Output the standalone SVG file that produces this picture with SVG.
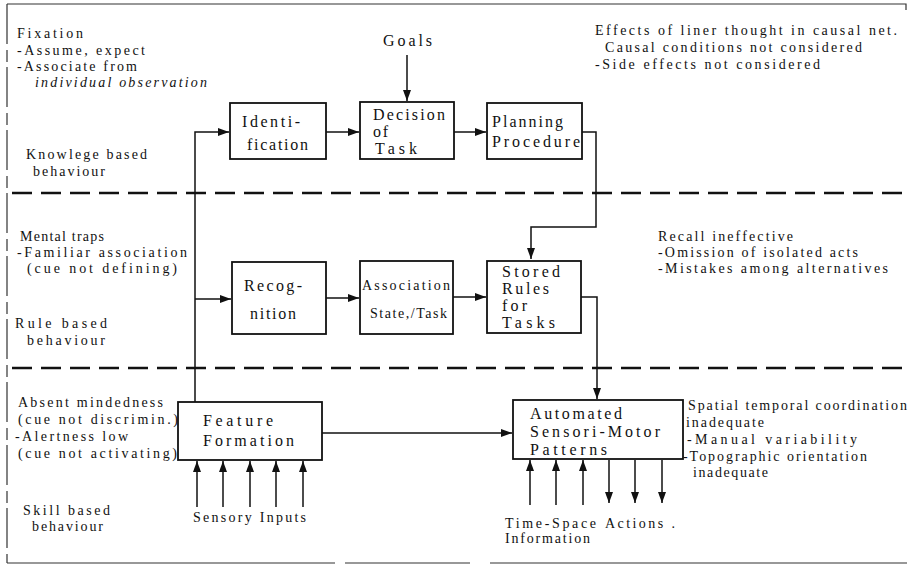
<svg xmlns="http://www.w3.org/2000/svg" width="910" height="571" viewBox="0 0 910 571">
<style>
.t{font-family:"Liberation Serif","DejaVu Serif",serif;font-size:14px;fill:#111}
.b{font-family:"Liberation Serif","DejaVu Serif",serif;font-size:16px;fill:#111}
.box{fill:#fff;stroke:#111;stroke-width:1.8}
.c{fill:none;stroke:#111;stroke-width:1.5}
.sep{stroke:#111;stroke-width:2.5;stroke-dasharray:20 9;fill:none}
.frame{stroke:#333;stroke-width:1.2;fill:none}
</style>
<defs>
<marker id="ah" markerUnits="userSpaceOnUse" markerWidth="12" markerHeight="10" refX="11" refY="4" orient="auto">
<path d="M0,0 L11,4 L0,8 Z" fill="#111"/>
</marker>
</defs>
<rect width="910" height="571" fill="#fff"/>
<g id="frame">
<path class="frame" d="M7,4 H906 V10"/>
<path class="frame" d="M7,4 V563" stroke-dasharray="40 6 12 5"/>
<path class="frame" d="M7,563 H335 M345,563 H470 M490,563 H907"/>
</g>
<g id="separators">
<line class="sep" x1="12" y1="193" x2="905" y2="193"/>
<line class="sep" x1="12" y1="368" x2="905" y2="368"/>
</g>
<g id="connectors">
<line class="c" x1="407" y1="55" x2="407" y2="101" marker-end="url(#ah)"/>
<line class="c" x1="326" y1="132" x2="359" y2="132" marker-end="url(#ah)"/>
<line class="c" x1="454" y1="132" x2="486" y2="132" marker-end="url(#ah)"/>
<path class="c" d="M582,132 H596 V227 H531 V259" marker-end="url(#ah)"/>
<path class="c" d="M195,402 V132 H229" marker-end="url(#ah)"/>
<line class="c" x1="195" y1="299" x2="231" y2="299" marker-end="url(#ah)"/>
<line class="c" x1="326" y1="298" x2="359" y2="298" marker-end="url(#ah)"/>
<line class="c" x1="453" y1="297" x2="486" y2="297" marker-end="url(#ah)"/>
<path class="c" d="M581,297 H597 V399" marker-end="url(#ah)"/>
<line class="c" x1="322" y1="433" x2="512" y2="433" marker-end="url(#ah)"/>
<line class="c" x1="197" y1="507" x2="197" y2="461" marker-end="url(#ah)"/>
<line class="c" x1="223" y1="507" x2="223" y2="461" marker-end="url(#ah)"/>
<line class="c" x1="250" y1="507" x2="250" y2="461" marker-end="url(#ah)"/>
<line class="c" x1="276" y1="507" x2="276" y2="461" marker-end="url(#ah)"/>
<line class="c" x1="303" y1="507" x2="303" y2="461" marker-end="url(#ah)"/>
<line class="c" x1="530" y1="505" x2="530" y2="460" marker-end="url(#ah)"/>
<line class="c" x1="556" y1="505" x2="556" y2="460" marker-end="url(#ah)"/>
<line class="c" x1="583" y1="505" x2="583" y2="460" marker-end="url(#ah)"/>
<line class="c" x1="609" y1="460" x2="609" y2="503" marker-end="url(#ah)"/>
<line class="c" x1="635" y1="460" x2="635" y2="503" marker-end="url(#ah)"/>
<line class="c" x1="662" y1="460" x2="662" y2="503" marker-end="url(#ah)"/>
</g>
<g id="identification">
<rect class="box" x="230" y="103" width="96" height="56"/>
<text class="b" x="242" y="127" textLength="58" lengthAdjust="spacing">Identi-</text>
<text class="b" x="247" y="150" textLength="61" lengthAdjust="spacing">fication</text>
</g>
<g id="decision">
<rect class="box" x="360" y="102" width="94" height="57"/>
<text class="b" x="373" y="120" textLength="72" lengthAdjust="spacing">Decision</text>
<text class="b" x="373" y="137" textLength="15" lengthAdjust="spacing">of</text>
<text class="b" x="375" y="154" textLength="42" lengthAdjust="spacing">Task</text>
</g>
<g id="planning">
<rect class="box" x="487" y="103" width="95" height="56"/>
<text class="b" x="492" y="127" textLength="71" lengthAdjust="spacing">Planning</text>
<text class="b" x="492" y="147" textLength="88" lengthAdjust="spacing">Procedure</text>
</g>
<g id="recognition">
<rect class="box" x="232" y="262" width="94" height="72"/>
<text class="b" x="244" y="291" textLength="58" lengthAdjust="spacing">Recog-</text>
<text class="b" x="250" y="319" textLength="46" lengthAdjust="spacing">nition</text>
</g>
<g id="association">
<rect class="box" x="360" y="261" width="93" height="73"/>
<text class="t" x="362" y="290" font-size="15" textLength="88" lengthAdjust="spacing">Association</text>
<text class="t" x="370" y="318" font-size="15" textLength="77" lengthAdjust="spacing">State,/Task</text>
</g>
<g id="stored-rules">
<rect class="box" x="487" y="261" width="94" height="72"/>
<text class="b" x="502" y="277" textLength="58" lengthAdjust="spacing">Stored</text>
<text class="b" x="502" y="294" textLength="47" lengthAdjust="spacing">Rules</text>
<text class="b" x="502" y="311" textLength="25" lengthAdjust="spacing">for</text>
<text class="b" x="502" y="328" textLength="53" lengthAdjust="spacing">Tasks</text>
</g>
<g id="feature-formation">
<rect class="box" x="178" y="402" width="144" height="58"/>
<text class="b" x="203" y="426" textLength="70" lengthAdjust="spacing">Feature</text>
<text class="b" x="203" y="446" textLength="91" lengthAdjust="spacing">Formation</text>
</g>
<g id="automated">
<rect class="box" x="513" y="400" width="170" height="59"/>
<text class="b" x="530" y="419" textLength="92" lengthAdjust="spacing">Automated</text>
<text class="b" x="530" y="437" textLength="130" lengthAdjust="spacing">Sensori-Motor</text>
<text class="b" x="530" y="455" textLength="77" lengthAdjust="spacing">Patterns</text>
</g>
<g id="goals">
<text class="b" x="383" y="46" textLength="49" lengthAdjust="spacing">Goals</text>
</g>
<g id="labels-left">
<text class="t" x="17" y="38" textLength="66" lengthAdjust="spacing">Fixation</text>
<text class="t" x="17" y="55" textLength="128" lengthAdjust="spacing">-Assume, expect</text>
<text class="t" x="17" y="71" textLength="120" lengthAdjust="spacing">-Associate from</text>
<text class="t" x="35" y="87" font-style="italic" textLength="172" lengthAdjust="spacing">individual observation</text>
<text class="t" x="26" y="159" textLength="121" lengthAdjust="spacing">Knowlege based</text>
<text class="t" x="33" y="176" textLength="72" lengthAdjust="spacing">behaviour</text>
<text class="t" x="20" y="241" textLength="84" lengthAdjust="spacing">Mental traps</text>
<text class="t" x="17" y="257" textLength="170" lengthAdjust="spacing">-Familiar association</text>
<text class="t" x="27" y="273" textLength="150" lengthAdjust="spacing">(cue not defining)</text>
<text class="t" x="15" y="328" textLength="92" lengthAdjust="spacing">Rule based</text>
<text class="t" x="27" y="345" textLength="78" lengthAdjust="spacing">behaviour</text>
<text class="t" x="18" y="407" textLength="145" lengthAdjust="spacing">Absent mindedness</text>
<text class="t" x="18" y="424" textLength="160" lengthAdjust="spacing">(cue not discrimin.)</text>
<text class="t" x="15" y="441" textLength="113" lengthAdjust="spacing">-Alertness low</text>
<text class="t" x="18" y="458" textLength="159" lengthAdjust="spacing">(cue not activating)</text>
<text class="t" x="23" y="515" textLength="87" lengthAdjust="spacing">Skill based</text>
<text class="t" x="32" y="531" textLength="71" lengthAdjust="spacing">behaviour</text>
</g>
<g id="labels-right">
<text class="t" x="595" y="35" textLength="302" lengthAdjust="spacing">Effects of liner thought in causal net.</text>
<text class="t" x="605" y="52" textLength="257" lengthAdjust="spacing">Causal conditions not considered</text>
<text class="t" x="595" y="69" textLength="225" lengthAdjust="spacing">-Side effects not considered</text>
<text class="t" x="658" y="241" textLength="135" lengthAdjust="spacing">Recall ineffective</text>
<text class="t" x="658" y="257" textLength="200" lengthAdjust="spacing">-Omission of isolated acts</text>
<text class="t" x="658" y="273" textLength="230" lengthAdjust="spacing">-Mistakes among alternatives</text>
<text class="t" x="688" y="410" textLength="219" lengthAdjust="spacing">Spatial temporal coordination</text>
<text class="t" x="686" y="427" textLength="78" lengthAdjust="spacing">inadequate</text>
<text class="t" x="687" y="444" textLength="170" lengthAdjust="spacing">-Manual variability</text>
<text class="t" x="683" y="461" textLength="184" lengthAdjust="spacing">-Topographic orientation</text>
<text class="t" x="693" y="477" textLength="75" lengthAdjust="spacing">inadequate</text>
</g>
<g id="labels-bottom">
<text class="t" x="193" y="522" textLength="113" lengthAdjust="spacing">Sensory Inputs</text>
<text class="t" x="505" y="528" textLength="91" lengthAdjust="spacing">Time-Space</text>
<text class="t" x="505" y="543" textLength="85" lengthAdjust="spacing">Information</text>
<text class="t" x="605" y="528" textLength="70" lengthAdjust="spacing">Actions .</text>
</g>
</svg>
